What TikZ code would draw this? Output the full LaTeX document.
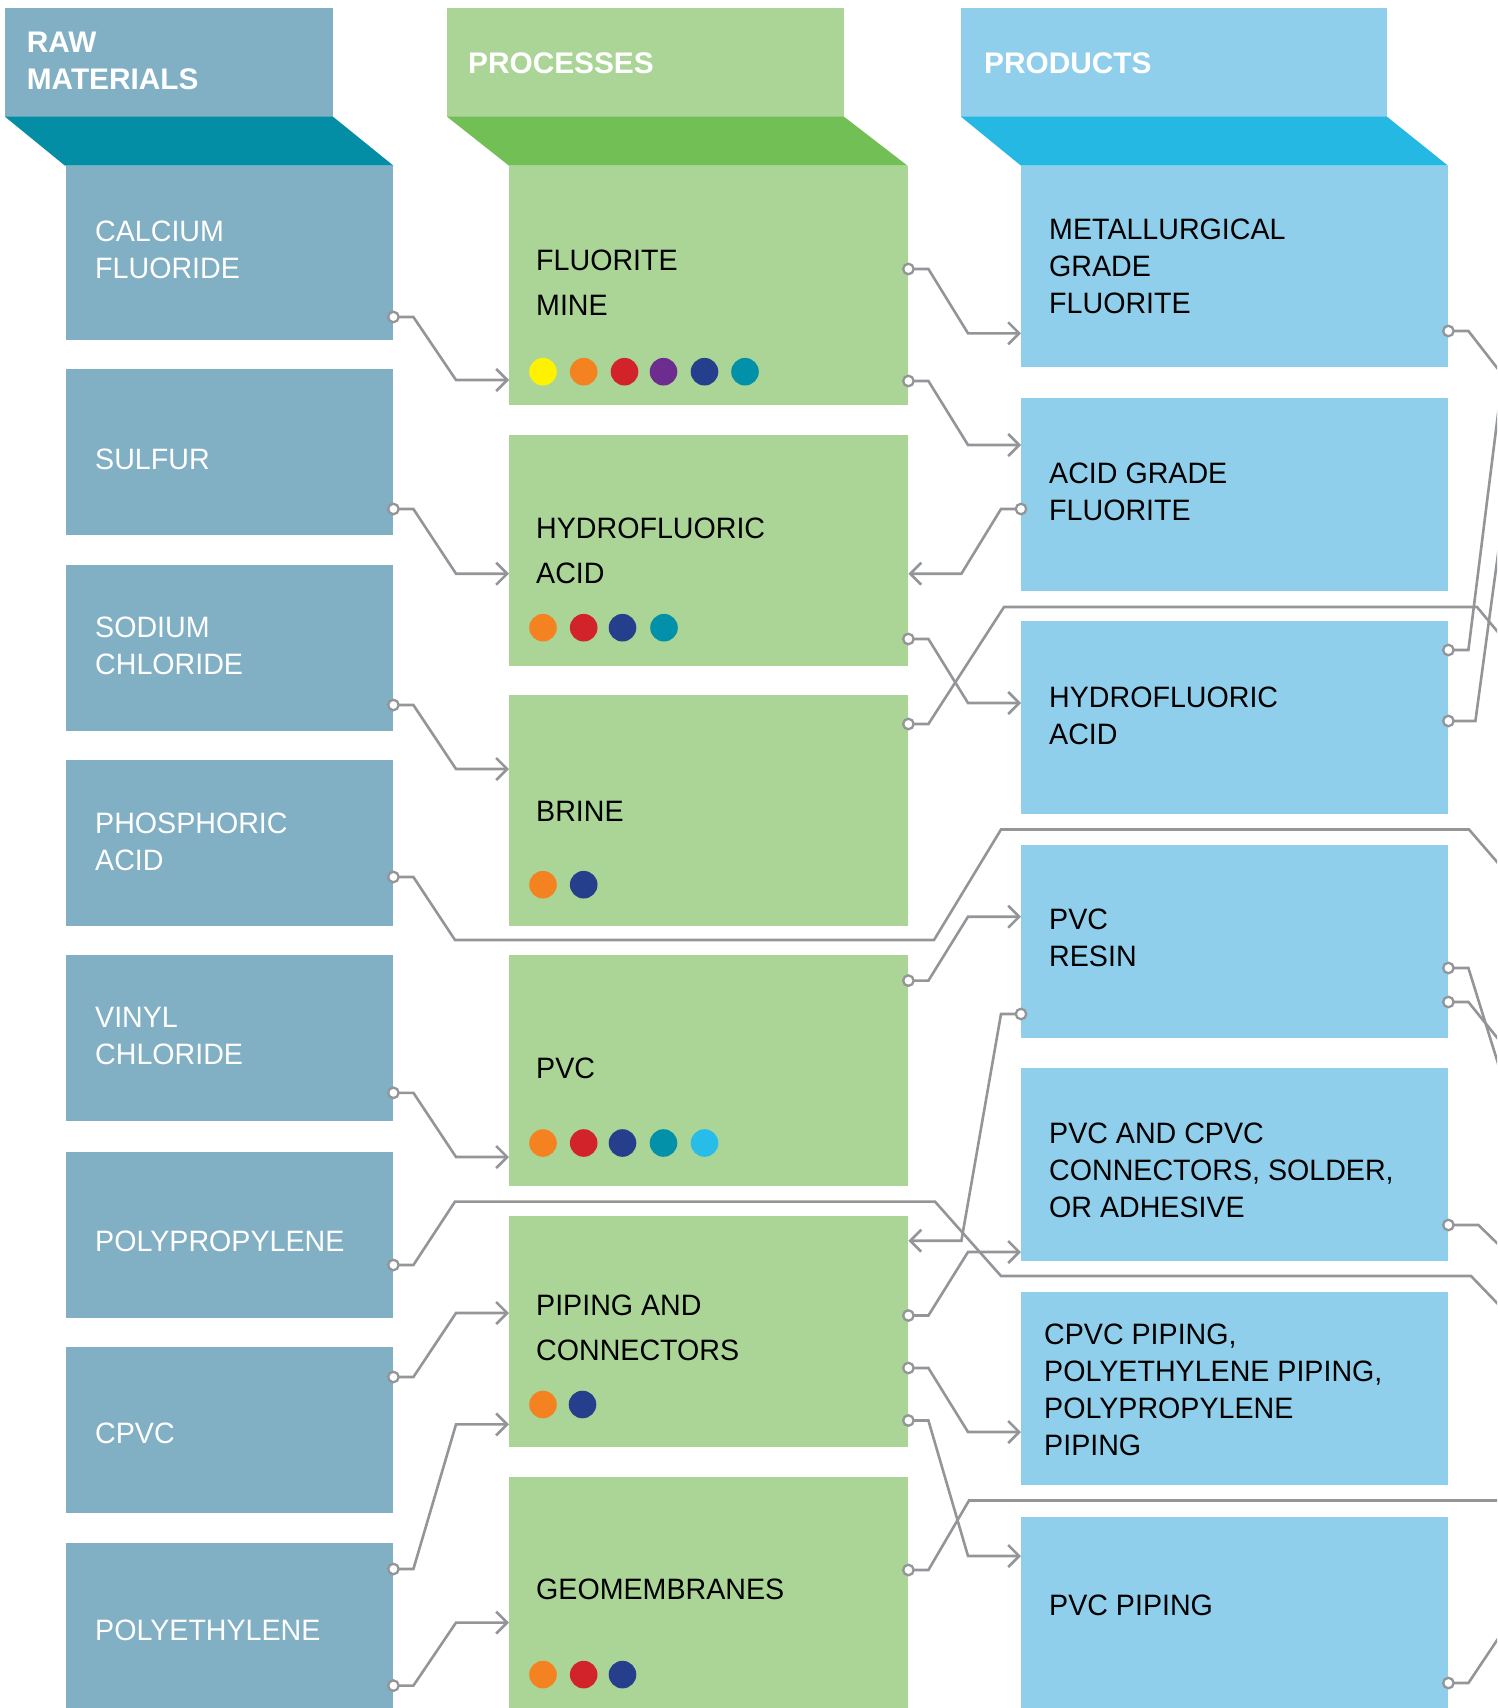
\documentclass[tikz,border=0pt]{standalone}
\usepackage{fontspec}
\setmainfont{Liberation Sans}
\newfontfamily\bodyfont[FakeStretch=0.97]{Liberation Sans}
\usetikzlibrary{arrows.meta, calc, positioning}
\tikzset{>={Straight Barb[length=11pt,width=22pt]}}
\definecolor{rawlight}{HTML}{81AFC3}
\definecolor{rawdark}{HTML}{038EA5}
\definecolor{proclight}{HTML}{ABD597}
\definecolor{procdark}{HTML}{72BF55}
\definecolor{prodlight}{HTML}{8FCFEB}
\definecolor{proddark}{HTML}{25B8E3}
\definecolor{wiregray}{HTML}{939598}
\definecolor{dotyellow}{HTML}{FFF200}
\definecolor{dotorange}{HTML}{F58220}
\definecolor{dotred}{HTML}{D2232A}
\definecolor{dotpurple}{HTML}{6D2D8F}
\definecolor{dotnavy}{HTML}{263F8C}
\definecolor{dotteal}{HTML}{0291A8}
\definecolor{dotsky}{HTML}{27BDE8}

\begin{document}
\begin{tikzpicture}[x=1pt, y=-1pt,
    rawbox/.style={fill=rawlight, inner sep=0, anchor=north west, minimum width=327pt},
    procbox/.style={fill=proclight, inner sep=0, anchor=north west, minimum width=399pt, minimum height=231pt},
    prodbox/.style={fill=prodlight, inner sep=0, anchor=north west, minimum width=427pt, minimum height=193pt},
    headtxt/.style={text=white, inner sep=0, anchor=west, align=left, font=\bfseries\fontsize{29.8}{37.4}\selectfont},
    rawtxt/.style={text=white, inner sep=0, anchor=west, align=left, font=\bodyfont\fontsize{29.5}{36.5}\selectfont},
    proctxt/.style={text=black, inner sep=0, anchor=west, align=left, font=\bodyfont\fontsize{29.5}{45}\selectfont},
    prodtxt/.style={text=black, inner sep=0, anchor=west, align=left, font=\bodyfont\fontsize{29.5}{37}\selectfont},
    link/.style={draw=wiregray, line width=2.6pt},
    port/.style={circle, draw=wiregray, fill=white, line width=2.3pt, inner sep=0, minimum size=10.5pt},
    wire/.style={to path={-- ++(20,0) -- ($(\tikztotarget)+(-53,0)$) -- (\tikztotarget)}},
    wireback/.style={to path={-- ++(-20,0) -- ($(\tikztotarget)+(53,0)$) -- (\tikztotarget)}}]
  \useasboundingbox (0,0) rectangle (1497,1708);
  \clip (0,0) rectangle (1497,1708);

  % column heads
  \fill[rawlight] (5,8) rectangle (333,116.7);
  \fill[rawdark] (5,116.7) -- (333,116.7) -- (393.5,165.7) -- (65,165.7) -- cycle;
  \fill[proclight] (447,8) rectangle (844,116.7);
  \fill[procdark] (447,116.7) -- (844,116.7) -- (907.5,165.7) -- (509,165.7) -- cycle;
  \fill[prodlight] (961,8) rectangle (1387,116.7);
  \fill[proddark] (961,116.7) -- (1387,116.7) -- (1448,165.7) -- (1021,165.7) -- cycle;
  \node[headtxt] (rawhead) at (26.7,60.7) {RAW\\MATERIALS};
  \node[headtxt] (prochead) at (468,63.3) {PROCESSES};
  \node[headtxt] (prodhead) at (984,63.3) {PRODUCTS};

  % raw materials
  \node[rawbox, minimum height=174.4pt] (cafl) at (66,165.6) {};
  \node[rawbox, minimum height=166pt] (sulf) at (66,369) {};
  \node[rawbox, minimum height=166pt] (nacl) at (66,565) {};
  \node[rawbox, minimum height=166pt] (phos) at (66,760) {};
  \node[rawbox, minimum height=166pt] (viny) at (66,955) {};
  \node[rawbox, minimum height=166pt] (polp) at (66,1152) {};
  \node[rawbox, minimum height=166pt] (cpvc) at (66,1347) {};
  \node[rawbox, minimum height=166pt] (poly) at (66,1543) {};
  \node[rawtxt] (cafl-t) at (95,250) {CALCIUM\\FLUORIDE};
  \node[rawtxt] (sulf-t) at (95,459) {SULFUR};
  \node[rawtxt] (nacl-t) at (95,646) {SODIUM\\CHLORIDE};
  \node[rawtxt] (phos-t) at (95,841.6) {PHOSPHORIC\\ACID};
  \node[rawtxt] (viny-t) at (95,1036) {VINYL\\CHLORIDE};
  \node[rawtxt] (polp-t) at (95,1241) {POLYPROPYLENE};
  \node[rawtxt] (cpvc-t) at (95,1433) {CPVC};
  \node[rawtxt] (poly-t) at (95,1630) {POLYETHYLENE};

  % processes
  \node[procbox, minimum height=239.4pt] (fm) at (509,165.6) {};
  \node[procbox] (hfp) at (509,435) {};
  \node[procbox] (brine) at (509,695) {};
  \node[procbox] (pvcp) at (509,955) {};
  \node[procbox] (pip) at (509,1216) {};
  \node[procbox] (geo) at (509,1477) {};
  \node[proctxt] (fm-t) at (536,282.5) {FLUORITE\\MINE};
  \node[proctxt] (hfp-t) at (536,550.5) {HYDROFLUORIC\\ACID};
  \node[proctxt] (brine-t) at (536,811.7) {BRINE};
  \node[proctxt] (pvcp-t) at (536,1068.8) {PVC};
  \node[proctxt] (pip-t) at (536,1327.5) {PIPING AND\\CONNECTORS};
  \node[proctxt] (geo-t) at (536,1589.6) {GEOMEMBRANES};

  % products
  \node[prodbox, minimum height=201.4pt] (met) at (1021,165.6) {};
  \node[prodbox] (acid) at (1021,398) {};
  \node[prodbox] (hfo) at (1021,621) {};
  \node[prodbox] (resin) at (1021,845) {};
  \node[prodbox] (conn) at (1021,1068) {};
  \node[prodbox] (cpip) at (1021,1292) {};
  \node[prodbox] (ppip) at (1021,1517) {};
  \node[prodtxt] (met-t) at (1049,265.9) {METALLURGICAL\\GRADE\\FLUORITE};
  \node[prodtxt] (acid-t) at (1049,491.4) {ACID GRADE\\FLUORITE};
  \node[prodtxt] (hfo-t) at (1049,716.2) {HYDROFLUORIC\\ACID};
  \node[prodtxt] (resin-t) at (1049,938) {PVC\\RESIN};
  \node[prodtxt] (conn-t) at (1049,1170) {PVC AND CPVC\\CONNECTORS, SOLDER,\\OR ADHESIVE};
  \node[prodtxt] (cpip-t) at (1044,1390.2) {CPVC PIPING,\\POLYETHYLENE PIPING,\\POLYPROPYLENE\\PIPING};
  \node[prodtxt] (ppip-t) at (1049,1605) {PVC PIPING};

  % colour dots
  \fill[dotyellow] (543,371.7) circle (13.8);
  \fill[dotorange] (583.7,371.7) circle (13.8);
  \fill[dotred] (624.5,371.7) circle (13.8);
  \fill[dotpurple] (663.5,371.7) circle (13.8);
  \fill[dotnavy] (704.5,371.7) circle (13.8);
  \fill[dotteal] (745,371.7) circle (13.8);
  \fill[dotorange] (543,627.7) circle (13.8);
  \fill[dotred] (583.7,627.7) circle (13.8);
  \fill[dotnavy] (622.5,627.7) circle (13.8);
  \fill[dotteal] (664,627.7) circle (13.8);
  \fill[dotorange] (543,884.7) circle (13.8);
  \fill[dotnavy] (583.7,884.7) circle (13.8);
  \fill[dotorange] (543,1143) circle (13.8);
  \fill[dotred] (583.7,1143) circle (13.8);
  \fill[dotnavy] (622.5,1143) circle (13.8);
  \fill[dotteal] (663.5,1143) circle (13.8);
  \fill[dotsky] (704.5,1143) circle (13.8);
  \fill[dotorange] (543,1404.5) circle (13.8);
  \fill[dotnavy] (582.5,1404.5) circle (13.8);
  \fill[dotorange] (543,1674.6) circle (13.8);
  \fill[dotred] (583.7,1674.6) circle (13.8);
  \fill[dotnavy] (622.5,1674.6) circle (13.8);

  % raw materials -> processes
  \draw[link, ->] (cafl.east |- 0,317) node[port] (o-cafl) {} to[wire] (fm.west |- 0,380);
  \draw[link, ->] (sulf.east |- 0,509) node[port] (o-sulf) {} to[wire] (hfp.west |- 0,573.7);
  \draw[link, ->] (nacl.east |- 0,705) node[port] (o-nacl) {} to[wire] (brine.west |- 0,769);
  \draw[link, ->] (viny.east |- 0,1092.8) node[port] (o-viny) {} to[wire] (pvcp.west |- 0,1157);
  \draw[link, ->] (cpvc.east |- 0,1377) node[port] (o-cpvc) {} to[wire] (pip.west |- 0,1313);
  \draw[link, ->] (poly.east |- 0,1569) node[port] (o-poly) {} to[wire] (pip.west |- 0,1424.4);
  \draw[link, ->] (poly.east |- 0,1685.6) node[port] (o-poly2) {} to[wire] (geo.west |- 0,1622.6);
  \draw[link] (phos.east |- 0,877) node[port] (o-phos) {} -- ++(20,0) -- (455,940) -- (934,940)
    -- (1001,829.5) -- (1469,829.5) -- (1510,877);
  \draw[link] (polp.east |- 0,1265) node[port] (o-polp) {} -- ++(20,0) -- (455,1201.6) -- (935,1201.6)
    -- (1001,1276) -- (1471,1276) -- (1510,1316.5);

  % processes -> products
  \draw[link, ->] (fm.east |- 0,269) node[port] (o-fm) {} to[wire] (met.west |- 0,333.3);
  \draw[link, ->] (fm.east |- 0,381) node[port] (o-fm2) {} to[wire] (acid.west |- 0,445);
  \draw[link, ->] (acid.west |- 0,509) node[port] (o-acid) {} to[wireback] (hfp.east |- 0,573.7);
  \draw[link, ->] (hfp.east |- 0,639) node[port] (o-hfp) {} to[wire] (hfo.west |- 0,703);
  \draw[link, ->] (pvcp.east |- 0,980.6) node[port] (o-pvcp) {} to[wire] (resin.west |- 0,916.7);
  \draw[link, ->] (resin.west |- 0,1014) node[port] (o-resin) {} to[wireback] (pip.east |- 0,1240.7);
  \draw[link, ->] (pip.east |- 0,1315.5) node[port] (o-pip) {} to[wire] (conn.west |- 0,1252);
  \draw[link, ->] (pip.east |- 0,1368) node[port] (o-pip2) {} to[wire] (cpip.west |- 0,1432);
  \draw[link, ->] (pip.east |- 0,1420.5) node[port] (o-pip3) {} to[wire] (ppip.west |- 0,1556);
  \draw[link] (brine.east |- 0,724) node[port] (o-brine) {} -- ++(20,0) -- (1004,607) -- (1477,607) -- (1510,646.6);
  \draw[link] (geo.east |- 0,1570) node[port] (o-geo) {} -- ++(20,0) -- (969,1500.5) -- (1510,1500.5);

  % products -> beyond
  \draw[link] (met.east |- 0,331) node[port] (o-met) {} -- ++(20,0) -- (1510,384.5);
  \draw[link] (hfo.east |- 0,650) node[port] (o-hfo) {} -- ++(20,0) -- (1510,318);
  \draw[link] (hfo.east |- 0,721) node[port] (o-hfo2) {} -- ++(27,0) -- (1510,465.5);
  \draw[link] (resin.east |- 0,968) node[port] (o-resin2) {} -- ++(20,0) -- (1510,1102);
  \draw[link] (resin.east |- 0,1002) node[port] (o-resin3) {} -- ++(20,0) -- (1510,1053.7);
  \draw[link] (conn.east |- 0,1225) node[port] (o-conn) {} -- ++(30,0) -- (1510,1255.7);
  \draw[link] (ppip.east |- 0,1683) node[port] (o-ppip) {} -- ++(20,0) -- (1510,1620.8);
\end{tikzpicture}
\end{document}
